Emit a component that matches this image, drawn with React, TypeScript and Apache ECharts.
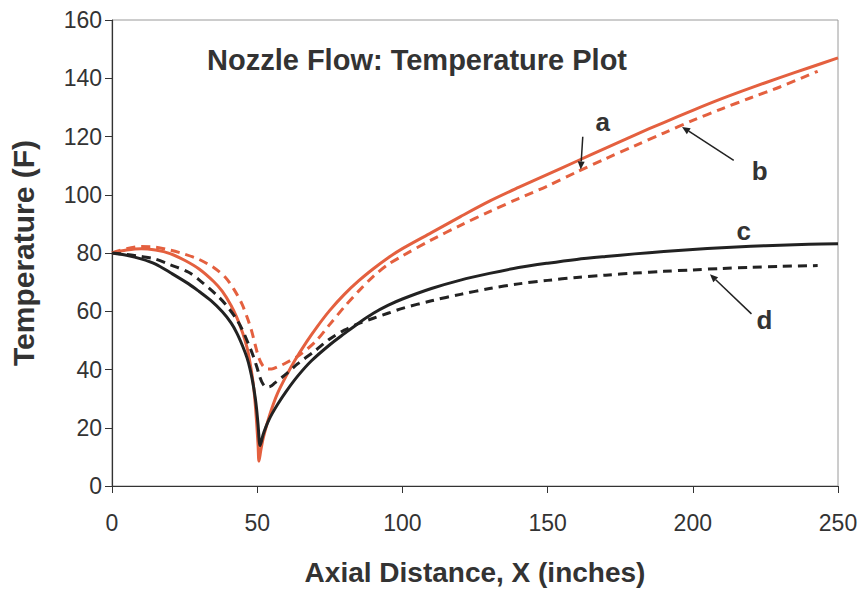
import React, { useEffect, useRef } from "react";
import * as echarts from "echarts";

// Curve a: red solid
const curveA: [number, number][] = [
  [0, 80], [5, 81], [10, 81.5], [15, 81], [20, 79.8], [25, 77.5], [30, 74.5], [35, 70.2],
  [38, 66.8], [41, 62], [43, 57.8], [45, 52.5], [46.5, 47.5], [47.5, 42.5], [48.6, 35.4],
  [49.3, 28.5], [49.8, 21.8], [50.3, 14], [50.6, 8.5], [51.2, 12], [52, 16.2], [53.2, 20.7],
  [55, 26.5], [57, 31.8], [60, 37.8], [63, 43.2], [67, 49.5], [70.5, 54.5], [75, 60.3],
  [80, 65.8], [85, 70.5], [90, 74.6], [95, 78.3], [100, 81.5], [110, 87], [120, 92.5],
  [130, 97.8], [140, 102.5], [150, 107], [160, 111.5], [170, 116], [180, 120.5],
  [190, 124.8], [200, 129], [210, 133], [220, 136.7], [230, 140.2], [240, 143.6], [250, 147],
];
// Curve b: red dashed
const curveB: [number, number][] = [
  [0, 80], [5, 81.5], [10, 82.2], [15, 82], [20, 81], [25, 79.6], [30, 77.8], [35, 75],
  [39, 71.7], [42, 67.5], [44.7, 62.6], [46.5, 58], [48, 53.5], [49.3, 48.5], [50.5, 44.2],
  [51.8, 41.5], [53.3, 40.2], [55, 40.2], [57, 40.9], [60, 42.3], [64.6, 45], [70, 49.5],
  [75, 55.5], [80, 61.5], [85, 67], [90, 72], [95, 76], [100, 79], [110, 84.5], [120, 89.5],
  [130, 94.2], [140, 98.7], [150, 103], [160, 107.8], [170, 112.4], [180, 116.8],
  [190, 121.2], [200, 125.5], [210, 129.5], [220, 133.3], [230, 137], [243, 142.4],
];
// Curve c: black solid
const curveC: [number, number][] = [
  [0, 80], [5, 79.2], [10, 78], [15, 76.2], [20, 73.3], [26.4, 69.4], [30, 66.8], [34, 63.7],
  [38, 59.8], [41, 56], [43, 52.5], [45, 48], [46.5, 44], [47.5, 40.3], [48.5, 35.5],
  [49.3, 30.5], [49.8, 26.4], [50.3, 21], [51, 13.9], [52, 17.5], [53, 20.3], [54, 22.6],
  [55, 24.6], [57, 28], [60, 32.5], [64, 37.8], [68.7, 43], [75, 48.5], [80, 52.3],
  [85, 56], [90, 59.3], [95, 62], [100, 64.2], [110, 67.8], [120, 70.7], [130, 73],
  [140, 75], [150, 76.5], [160, 77.8], [170, 78.8], [180, 79.7], [190, 80.5], [200, 81.2],
  [210, 81.8], [220, 82.3], [230, 82.7], [240, 83], [250, 83.2],
];
// Curve d: black dashed
const curveD: [number, number][] = [
  [0, 80], [5, 79.5], [10, 78.8], [15, 77.9], [20, 76], [26.4, 73.4], [30, 70.8],
  [35.6, 66], [39, 62.5], [42.4, 58], [44.7, 54], [46.9, 49], [48.5, 45], [49.8, 41.1],
  [51, 37.2], [52, 35], [53, 34], [54.5, 34.2], [56, 35.3], [60, 38.5], [64, 42], [70, 46.5],
  [75, 50.5], [80, 53.5], [85, 55.8], [90, 57.6], [95, 59.3], [100, 61], [110, 63.6],
  [120, 65.8], [130, 67.8], [140, 69.4], [150, 70.6], [160, 71.6], [170, 72.4],
  [180, 73.1], [190, 73.7], [200, 74.2], [210, 74.7], [220, 75.1], [230, 75.4], [243, 75.7],
];

const xTicks = [0, 50, 100, 150, 200, 250];
const yTicks = [0, 20, 40, 60, 80, 100, 120, 140, 160];

// Annotation labels (data coordinates)
const labelNames = ["a", "b", "c", "d"];
const labelPos: [number, number][] = [[169, 125], [223, 108], [217.5, 87.6], [224.7, 57]];
// Arrows: [from, to] in data coordinates
const arrows: [[number, number], [number, number]][] = [
  [[162.1, 119.9], [161.4, 108.7]],
  [[214.1, 111.8], [196.3, 123.3]],
  [[220.2, 59.1], [205.9, 72.7]],
];

const RED = "#e4603f";
const BLACK = "#222222";
const TEXT = "#333333";
const FONT = "Liberation Sans, Arial, sans-serif";

export default function App() {
  const ref = useRef<HTMLDivElement>(null);
  useEffect(() => {
    if (!ref.current) return;
    const chart = echarts.init(ref.current, null, { renderer: "svg" });
    const lineSeries = (name: string, data: [number, number][], color: string, dashed: boolean) => ({
      type: "line",
      name,
      data,
      showSymbol: false,
      smooth: 0.3,
      lineStyle: { color, width: 3, type: dashed ? [9, 6] : "solid", join: "round", cap: "butt" },
      z: dashed ? 3 : 2,
    });
    chart.setOption({
      animation: false,
      backgroundColor: "#ffffff",
      title: {
        text: "Nozzle Flow: Temperature Plot",
        left: 202,
        top: 40,
        textStyle: { fontFamily: FONT, fontSize: 29, fontWeight: "bold", color: TEXT },
      },
      grid: { left: 106, right: 23, top: 20, bottom: 100, show: true, borderColor: "#9a9a9a", borderWidth: 1 },
      xAxis: {
        type: "value",
        min: 0,
        max: 250,
        interval: 50,
        name: "Axial Distance, X (inches)",
        nameLocation: "middle",
        nameGap: 72,
        nameTextStyle: { fontFamily: FONT, fontSize: 28, fontWeight: "bold", color: TEXT },
        axisLine: { show: true, lineStyle: { color: "#333", width: 1.2 } },
        axisTick: { show: true, length: 7, lineStyle: { color: "#333" } },
        axisLabel: {
          margin: 25,
          fontFamily: FONT,
          fontSize: 23,
          color: TEXT,
          formatter: (v: number) => (xTicks.includes(v) ? String(v) : ""),
        },
        splitLine: { show: false },
      },
      yAxis: {
        type: "value",
        min: 0,
        max: 160,
        interval: 20,
        name: "Temperature (F)",
        nameLocation: "middle",
        nameGap: 74,
        nameTextStyle: { fontFamily: FONT, fontSize: 30, fontWeight: "bold", color: TEXT },
        axisLine: { show: true, lineStyle: { color: "#333", width: 1.2 } },
        axisTick: { show: true, length: 7, lineStyle: { color: "#333" } },
        axisLabel: {
          margin: 10,
          fontFamily: FONT,
          fontSize: 23,
          color: TEXT,
          formatter: (v: number) => (yTicks.includes(v) ? String(v) : ""),
        },
        splitLine: { show: false },
      },
      series: [
        lineSeries("a", curveA, RED, false),
        lineSeries("b", curveB, RED, true),
        lineSeries("c", curveC, BLACK, false),
        lineSeries("d", curveD, BLACK, true),
      ],
    });

    const toPx = (p: [number, number]) => chart.convertToPixel({ gridIndex: 0 }, p) as number[];
    const elements: any[] = [];
    labelNames.forEach((n, i) => {
      const [px, py] = toPx(labelPos[i]);
      elements.push({
        type: "text",
        x: px,
        y: py,
        style: {
          text: n,
          fontFamily: FONT,
          fontSize: 26,
          fontWeight: "bold",
          fill: TEXT,
          align: "center",
          verticalAlign: "middle",
        },
        z: 10,
      });
    });
    arrows.forEach(([from, to]) => {
      const [x1, y1] = toPx(from);
      const [x2, y2] = toPx(to);
      const ang = Math.atan2(y2 - y1, x2 - x1);
      const L = 8;
      const W = 3.5;
      const bx = x2 - L * Math.cos(ang);
      const by = y2 - L * Math.sin(ang);
      const nx = -Math.sin(ang);
      const ny = Math.cos(ang);
      elements.push({
        type: "line",
        shape: { x1, y1, x2: bx, y2: by },
        style: { stroke: "#222", lineWidth: 1.5 },
        z: 10,
      });
      elements.push({
        type: "polygon",
        shape: { points: [[x2, y2], [bx + nx * W, by + ny * W], [bx - nx * W, by - ny * W]] },
        style: { fill: "#222" },
        z: 10,
      });
    });
    chart.setOption({ graphic: { elements } });

    return () => chart.dispose();
  }, []);
  return (
    <div
      ref={ref}
      style={{ position: "absolute", left: 0, top: 0, width: 861, height: 591, overflow: "hidden" }}
    />
  );
}
